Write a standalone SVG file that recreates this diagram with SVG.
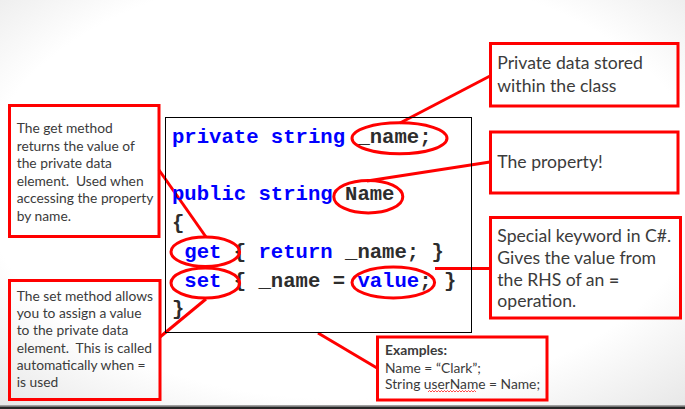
<svg xmlns="http://www.w3.org/2000/svg" width="685" height="409" viewBox="0 0 685 409">
<defs>
<radialGradient id="bg" cx="0.5" cy="0.45" r="0.75">
<stop offset="0.7" stop-color="#ffffff"/>
<stop offset="1" stop-color="#e6e6e6"/>
</radialGradient>
</defs>
<style>
.box{fill:none;stroke:#ff0000;stroke-width:3}
.ell{fill:none;stroke:#ff0000;stroke-width:3}
.con{stroke:#ff0000;stroke-width:3;fill:none}
.code{font-family:"Liberation Mono","Courier New",monospace;font-weight:bold;font-size:20.6px;fill:#2d2d2d;white-space:pre}
.kw{fill:#0000ff}
.note{font-family:Lato,"Liberation Sans",sans-serif;fill:#3b3b3b;font-size:13.8px;white-space:pre}
.big{font-size:17.6px}
</style>
<rect width="685" height="409" fill="url(#bg)"/>
<rect x="0" y="405" width="685" height="1.5" fill="#a0a0a0"/>
<rect x="0" y="406.5" width="685" height="2.5" fill="#262626"/>

<g id="connectors">
<line class="con" x1="400" y1="123" x2="490" y2="76"/>
<line class="con" x1="367" y1="181" x2="490" y2="162"/>
<line class="con" x1="159" y1="170" x2="206" y2="237"/>
<line class="con" x1="206" y1="299" x2="160" y2="337"/>
<line class="con" x1="435" y1="268.5" x2="490" y2="268.5"/>
<line class="con" x1="318" y1="333" x2="377" y2="368"/>
</g>

<g id="code">
<rect x="165.5" y="117.5" width="306" height="215" fill="none" stroke="#000" stroke-width="1"/>
<text class="code" x="172" y="143"><tspan class="kw">private string</tspan> _name;</text>
<text class="code" x="172" y="200.4"><tspan class="kw">public string</tspan> Name</text>
<text class="code" x="172" y="229.1">{</text>
<text class="code" x="172" y="257.8"> <tspan class="kw">get</tspan> { <tspan class="kw">return</tspan> _name; }</text>
<text class="code" x="172" y="286.5"> <tspan class="kw">set</tspan> { _name = <tspan class="kw">value</tspan>; }</text>
<text class="code" x="172" y="315.2">}</text>
</g>

<g id="highlights">
<ellipse class="ell" cx="399.5" cy="138.3" rx="47.5" ry="15.5"/>
<ellipse class="ell" cx="368.3" cy="196.7" rx="34.5" ry="16.3"/>
<ellipse class="ell" cx="205.3" cy="251.7" rx="34.3" ry="14.7"/>
<ellipse class="ell" cx="205.3" cy="283" rx="34.3" ry="15"/>
<ellipse class="ell" cx="393.3" cy="282.5" rx="41.3" ry="15.5"/>
</g>

<g id="note-get">
<rect class="box" x="9.5" y="105.5" width="149.5" height="131"/>
<text class="note" x="16.7" y="133.3">The get method</text>
<text class="note" x="16.7" y="150.8">returns the value of</text>
<text class="note" x="16.7" y="168.3">the private data</text>
<text class="note" x="16.7" y="185.8">element.  Used when</text>
<text class="note" x="16.7" y="203.3">accessing the property</text>
<text class="note" x="16.7" y="220.8">by name.</text>
</g>

<g id="note-set">
<rect class="box" x="9.5" y="280.5" width="150.5" height="119"/>
<text class="note" x="16.7" y="300.7">The set method allows</text>
<text class="note" x="16.7" y="318">you to assign a value</text>
<text class="note" x="16.7" y="335.3">to the private data</text>
<text class="note" x="16.7" y="352.6">element.  This is called</text>
<text class="note" x="16.7" y="369.9">automatically when =</text>
<text class="note" x="16.7" y="387.2">is used</text>
</g>

<g id="note-private">
<rect class="box" x="490.5" y="43.5" width="187.5" height="62.5"/>
<text class="note big" x="497.3" y="69.3">Private data stored</text>
<text class="note big" x="497.3" y="91.7">within the class</text>
</g>

<g id="note-property">
<rect class="box" x="490.5" y="132" width="187.5" height="61"/>
<text class="note big" x="497.3" y="168.3">The property!</text>
</g>

<g id="note-value">
<rect class="box" x="490.5" y="217.5" width="190" height="100.5"/>
<text class="note big" x="497.3" y="241.7">Special keyword in C#.</text>
<text class="note big" x="497.3" y="263.6">Gives the value from</text>
<text class="note big" x="497.3" y="285.5">the RHS of an <tspan font-weight="bold">=</tspan></text>
<text class="note big" x="497.3" y="307.4">operation.</text>
</g>

<g id="note-examples">
<rect class="box" x="377.5" y="337" width="169.5" height="63"/>
<text class="note" x="385" y="355" font-weight="bold">Examples:</text>
<text class="note" x="385" y="373.3">Name = “Clark”;</text>
<text class="note" x="385" y="389.3">String userName = Name;</text>
<path d="M428,392 l1.5,-1.5 l1.5,1.5 l1.5,-1.5 l1.5,1.5 l1.5,-1.5 l1.5,1.5 l1.5,-1.5 l1.5,1.5 l1.5,-1.5 l1.5,1.5 l1.5,-1.5 l1.5,1.5 l1.5,-1.5 l1.5,1.5 l1.5,-1.5 l1.5,1.5 l1.5,-1.5 l1.5,1.5 l1.5,-1.5 l1.5,1.5 l1.5,-1.5 l1.5,1.5 l1.5,-1.5 l1.5,1.5 l1.5,-1.5 l1.5,1.5 l1.5,-1.5 l1.5,1.5 l1.5,-1.5 l1.5,1.5 l1.5,-1.5 l1.5,1.5" fill="none" stroke="#ff0000" stroke-width="0.7"/>
</g>
</svg>
